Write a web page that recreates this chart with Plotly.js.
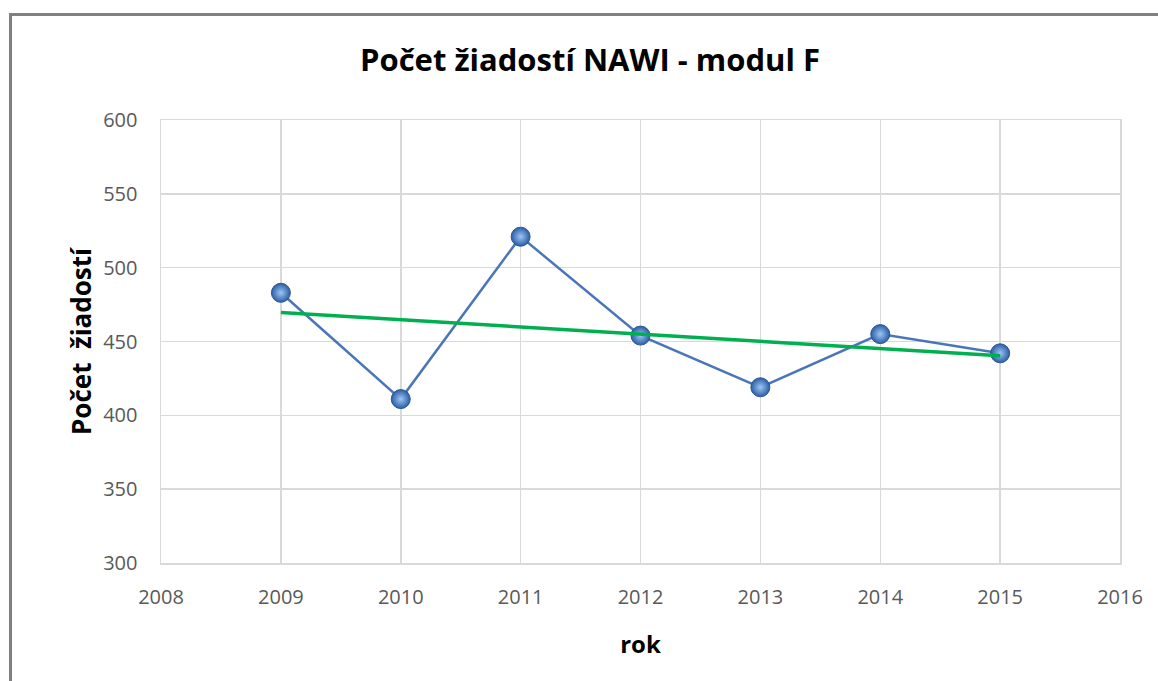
<!DOCTYPE html>
<html>
<head>
<meta charset="utf-8">
<script src="https://cdn.plot.ly/plotly-3.0.1.min.js"></script>
<style>
  html, body { margin: 0; padding: 0; background: #ffffff; overflow: hidden; }
  #frame { position: absolute; left: 9px; top: 13px; width: 1200px; height: 720px;
           border-top: 3px solid #808080; border-left: 3px solid #808080; box-sizing: border-box; pointer-events: none; z-index: 5; }
  #chart { position: absolute; left: 0; top: 0; width: 1158px; height: 681px; }
</style>
</head>
<body>
<div id="chart"></div>
<div id="frame"></div>
<script>
// Data
const years = [2009, 2010, 2011, 2012, 2013, 2014, 2015];
const requests = [483, 411, 521, 454, 419, 455, 442];
const xTicks = [2008, 2009, 2010, 2011, 2012, 2013, 2014, 2015, 2016];
const yTicks = [300, 350, 400, 450, 500, 550, 600];

// Linear trend (least squares) computed from the data
const n = years.length;
const mx = years.reduce((a, b) => a + b, 0) / n;
const my = requests.reduce((a, b) => a + b, 0) / n;
let sxy = 0, sxx = 0;
for (let i = 0; i < n; i++) { sxy += (years[i] - mx) * (requests[i] - my); sxx += (years[i] - mx) ** 2; }
const slope = sxy / sxx;
const trendX = [years[0], years[n - 1]];
const trendY = trendX.map(x => my + slope * (x - mx));

const FONT = '"Open Sans", "Noto Sans", sans-serif';

const traces = [
  {
    x: years, y: requests, type: 'scatter', mode: 'lines+markers',
    line: { color: '#4a76b8', width: 2.5 },
    marker: { size: 19, color: '#2c5ea6', line: { color: '#2a578f', width: 1 },
              gradient: { type: 'radial', color: '#9cc6f4' } },
    hoverinfo: 'x+y', showlegend: false
  },
  {
    x: trendX, y: trendY, type: 'scatter', mode: 'lines',
    line: { color: '#00b050', width: 3.5 },
    hoverinfo: 'skip', showlegend: false
  }
];

const layout = {
  width: 1158, height: 681,
  margin: { l: 161, r: 38, t: 120, b: 118 },
  paper_bgcolor: '#ffffff', plot_bgcolor: '#ffffff',
  font: { family: FONT, color: '#595959' },
  title: { text: '<b>Počet žiadostí NAWI - modul F</b>', x: 590 / 1158, xanchor: 'center',
           y: 1 - 60 / 681, yanchor: 'middle',
           font: { family: FONT, size: 31, color: '#000000' } },
  xaxis: {
    range: [2008, 2016], tickvals: xTicks, ticktext: xTicks.map(String),
    showgrid: true, gridcolor: '#d9d9d9', gridwidth: 1.5,
    showline: true, linecolor: '#d9d9d9', linewidth: 1.5, mirror: true,
    zeroline: false, ticks: '', ticklabelstandoff: 15,
    tickfont: { family: FONT, size: 20, color: '#595959' },
    title: { text: '<b>rok</b>', standoff: 27, font: { family: FONT, size: 24, color: '#000000' } }
  },
  yaxis: {
    range: [300, 600], tickvals: yTicks, ticktext: yTicks.map(String),
    showgrid: true, gridcolor: '#d9d9d9', gridwidth: 1.5,
    showline: true, linecolor: '#d9d9d9', linewidth: 1.5, mirror: true,
    zeroline: false, ticks: '', ticklabelstandoff: 18,
    tickfont: { family: FONT, size: 20, color: '#595959' },
    title: { text: '<b>Počet  žiadostí</b>', standoff: 4, font: { family: FONT, size: 26, color: '#000000' } }
  }
};

Plotly.newPlot('chart', traces, layout, { displayModeBar: false, staticPlot: true });
</script>
</body>
</html>
